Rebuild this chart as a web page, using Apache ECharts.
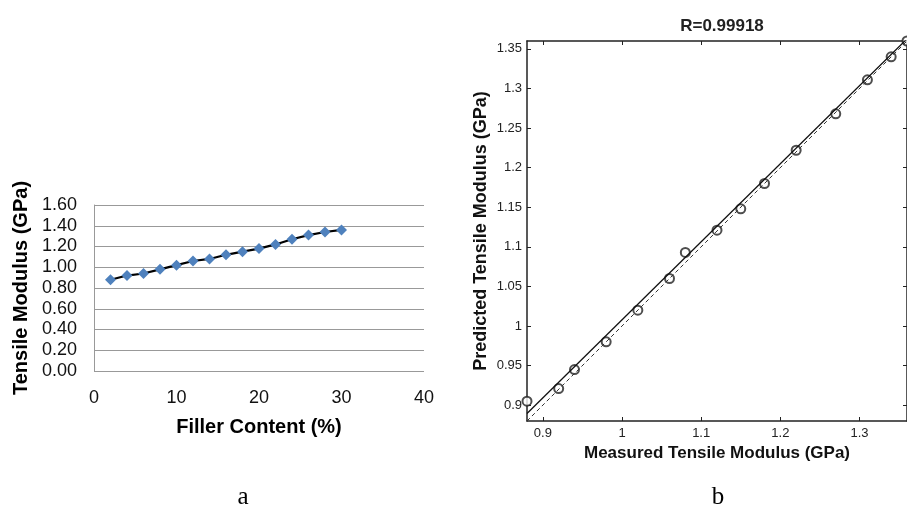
<!DOCTYPE html>
<html>
<head>
<meta charset="utf-8">
<script src="https://cdn.jsdelivr.net/npm/echarts@6/dist/echarts.min.js"></script>
<style>
  html, body { margin: 0; padding: 0; background: #fff; }
  #chart { width: 907px; height: 510px; }
</style>
</head>
<body>
<div id="chart"></div>
<script>
  // panel a: filler content vs tensile modulus
  var fillerContent = [2, 4, 6, 8, 10, 12, 14, 16, 18, 20, 22, 24, 26, 28, 30]
  var tensileModulus = [0.88, 0.92, 0.94, 0.98, 1.02, 1.06, 1.08, 1.12, 1.15, 1.18, 1.22, 1.27, 1.31, 1.34, 1.36]

  // panel b: measured vs predicted
  var measured = [0.88, 0.92, 0.94, 0.98, 1.02, 1.06, 1.08, 1.12, 1.15, 1.18, 1.22, 1.27, 1.31, 1.34, 1.36]
  var predicted = [0.905, 0.921, 0.945, 0.98, 1.02, 1.06, 1.093, 1.121, 1.148, 1.18, 1.222, 1.268, 1.311, 1.34, 1.36]
  var fitLine = [[0.88, 0.8895], [1.36, 1.3627]]
  var identityLine = [[0.88, 0.88], [1.36, 1.36]]
  var xTicksB = [0.9, 1, 1.1, 1.2, 1.3]
  var yTicksB = [0.9, 0.95, 1, 1.05, 1.1, 1.15, 1.2, 1.25, 1.3, 1.35]

  var seriesA = fillerContent.map(function (x, i) { return [x, tensileModulus[i]] })
  var seriesB = measured.map(function (x, i) { return [x, predicted[i]] })

  var font = 'Liberation Sans, Arial, sans-serif'
  var boxLine = { show: true, lineStyle: { color: '#222', width: 1.5 } }
  var inTick = function (vals) {
    return { show: true, inside: true, length: 4, customValues: vals, lineStyle: { color: '#222' } }
  }

  var myChart = echarts.init(document.getElementById('chart'))
  myChart.setOption({
    animation: false,
    title: [
      { text: 'R=0.99918', left: 717, top: 13, textAlign: 'center',
        textStyle: { fontFamily: font, fontSize: 17, fontWeight: 'bold', color: '#222' } },
      { text: 'a', left: 238, top: 480, textAlign: 'center',
        textStyle: { fontFamily: 'Liberation Serif, serif', fontSize: 25, fontWeight: 'normal', color: '#000' } },
      { text: 'b', left: 713, top: 480, textAlign: 'center',
        textStyle: { fontFamily: 'Liberation Serif, serif', fontSize: 25, fontWeight: 'normal', color: '#000' } }
    ],
    grid: [
      { left: 94, top: 205, width: 330, height: 166 },
      { left: 527, top: 41, width: 380, height: 380 }
    ],
    xAxis: [
      {
        gridIndex: 0, type: 'value', min: 0, max: 40, interval: 10,
        name: 'Filler Content (%)', nameLocation: 'middle', nameGap: 46,
        nameTextStyle: { fontFamily: font, fontSize: 20, fontWeight: 'bold', color: '#000' },
        axisLine: { show: false }, axisTick: { show: false },
        axisLabel: { fontFamily: font, fontSize: 18, color: '#111', margin: 18 },
        splitLine: { show: false }
      },
      {
        gridIndex: 1, type: 'value', min: 0.88, max: 1.36,
        name: 'Measured Tensile Modulus (GPa)', nameLocation: 'middle', nameGap: 23,
        nameTextStyle: { fontFamily: font, fontSize: 17, fontWeight: 'bold', color: '#111' },
        axisLine: boxLine, axisTick: inTick(xTicksB),
        axisLabel: { customValues: xTicksB, fontFamily: font, fontSize: 13, color: '#222', margin: 6 },
        splitLine: { show: false }
      },
      {
        gridIndex: 1, type: 'value', min: 0.88, max: 1.36, position: 'top',
        axisLine: boxLine, axisTick: inTick(xTicksB),
        axisLabel: { show: false }, splitLine: { show: false }
      }
    ],
    yAxis: [
      {
        gridIndex: 0, type: 'value', min: 0, max: 1.6, interval: 0.2,
        name: 'Tensile Modulus (GPa)', nameLocation: 'middle', nameGap: 63,
        nameTextStyle: { fontFamily: font, fontSize: 20, fontWeight: 'bold', color: '#000' },
        axisLine: { show: true, lineStyle: { color: '#999' } }, axisTick: { show: false },
        axisLabel: { fontFamily: font, fontSize: 18, color: '#111', margin: 17,
          formatter: function (v) { return v.toFixed(2) } },
        splitLine: { show: true, lineStyle: { color: '#999', width: 1 } }
      },
      {
        gridIndex: 1, type: 'value', min: 0.88, max: 1.36,
        name: 'Predicted Tensile Modulus (GPa)', nameLocation: 'middle', nameGap: 37,
        nameTextStyle: { fontFamily: font, fontSize: 18, fontWeight: 'bold', color: '#111' },
        axisLine: boxLine, axisTick: inTick(yTicksB),
        axisLabel: { customValues: yTicksB, fontFamily: font, fontSize: 13, color: '#222', margin: 5 },
        splitLine: { show: false }
      },
      {
        gridIndex: 1, type: 'value', min: 0.88, max: 1.36, position: 'right',
        axisLine: boxLine, axisTick: inTick(yTicksB),
        axisLabel: { show: false }, splitLine: { show: false }
      }
    ],
    series: [
      {
        type: 'line', xAxisIndex: 0, yAxisIndex: 0,
        data: seriesA,
        symbol: 'diamond', symbolSize: 11,
        itemStyle: { color: '#4f81bd' },
        lineStyle: { color: '#000', width: 2.2 }
      },
      {
        type: 'line', xAxisIndex: 1, yAxisIndex: 1,
        data: identityLine, symbol: 'none',
        lineStyle: { color: '#333', width: 1, type: [4, 3] }
      },
      {
        type: 'line', xAxisIndex: 1, yAxisIndex: 1,
        data: fitLine, symbol: 'none',
        lineStyle: { color: '#111', width: 1.3 }
      },
      {
        type: 'scatter', xAxisIndex: 1, yAxisIndex: 1,
        data: seriesB, symbol: 'emptyCircle', symbolSize: 9, clip: false,
        itemStyle: { color: '#222', borderWidth: 1 }
      }
    ]
  })
</script>
</body>
</html>
